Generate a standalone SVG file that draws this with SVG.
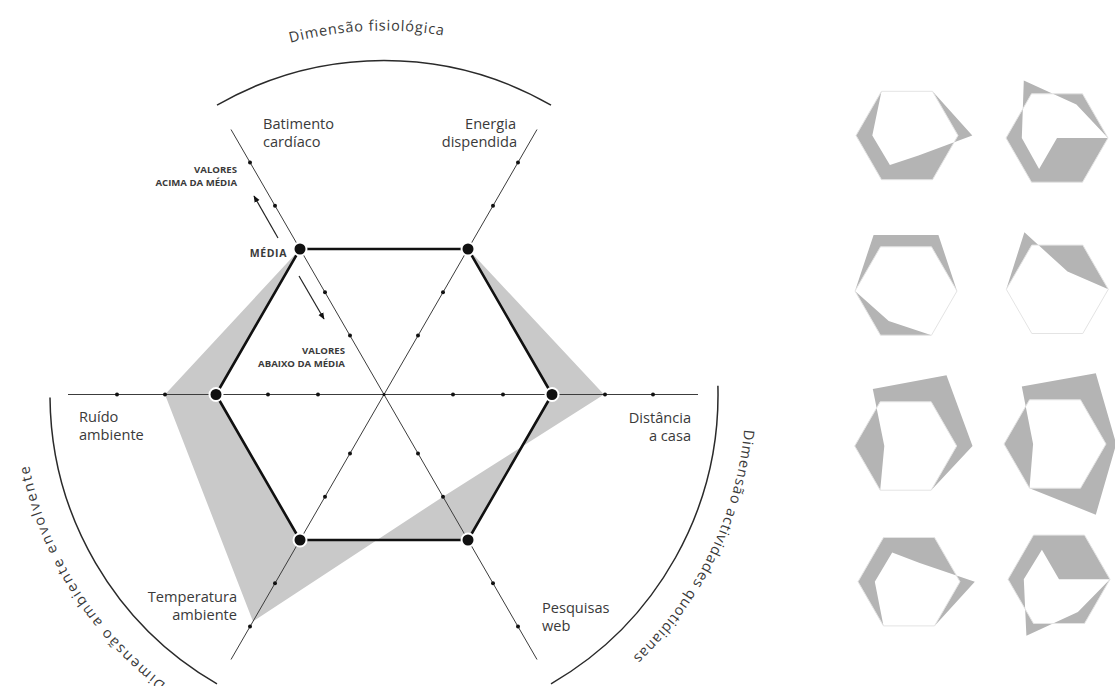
<svg xmlns="http://www.w3.org/2000/svg" width="1115" height="686" viewBox="0 0 1115 686">
<defs>
<style>
.axis{stroke:#3c3c3c;stroke-width:1;fill:none}
.hex{stroke:#111;stroke-width:2.6;fill:none;stroke-linejoin:round}
.big{fill:#111;stroke:#fff;stroke-width:2}
.tick{fill:#111}
.lbl{font-family:"Open Sans","Liberation Sans",sans-serif;font-size:14.6px;fill:#3a3a3a}
.cap{font-family:"Open Sans","Liberation Sans",sans-serif;font-weight:700;font-size:9.6px;fill:#3a3a3a}
.med{font-family:"Open Sans","Liberation Sans",sans-serif;font-weight:700;font-size:10.5px;letter-spacing:0.6px;fill:#3a3a3a}
.dim{font-family:"Open Sans","Liberation Sans",sans-serif;font-size:14.5px;letter-spacing:0.8px;fill:#3a3a3a}
.arc{stroke:#2a2a2a;stroke-width:1.5;fill:none}
.area{fill:#c9c9c9;fill-rule:evenodd}
.thumb{fill:#b4b4b4;fill-rule:evenodd}
.thex{fill:none;stroke:#e4e4e4;stroke-width:1}
.arr{stroke:#222;stroke-width:1.2;fill:none}
</style>
<marker id="ah" viewBox="0 0 10 10" refX="9" refY="5" markerWidth="7" markerHeight="7" orient="auto" markerUnits="userSpaceOnUse">
<path d="M0,1 L10,5 L0,9 Z" fill="#111"/>
</marker>
<path id="tpTop" d="M202,79.3 A364,364 0 0 1 566,79.3"/>
<path id="tpRight" d="M744.3,429.2 A362,362 0 0 1 477.7,744.2"/>
<path id="tpLeft" d="M166.1,683.6 A362,362 0 0 1 23.4,362.9"/>
</defs>

<g id="difference-area">
<path class="area" d="M300,249 L468,249 L552,394.5 L468,540 L300,540 L216,394.5 Z M300,249 L468,249 L604,394.5 L443,496.7 L253,621.4 L165,394.5 Z"/>
</g>

<g id="connectors">
<line class="axis" x1="68" y1="394.5" x2="698" y2="394.5"/>
<line class="axis" x1="231" y1="129.5" x2="537" y2="659.5"/>
<line class="axis" x1="537" y1="129.5" x2="231" y2="659.5"/>
<polygon class="hex" points="300,249 468,249 552,394.5 468,540 300,540 216,394.5"/>
<line class="arr" x1="278" y1="238" x2="254" y2="196" marker-end="url(#ah)"/>
<line class="arr" x1="299" y1="276" x2="324" y2="319" marker-end="url(#ah)"/>
</g>

<g id="ticks">
<circle class="tick" cx="117" cy="394.5" r="2"/>
<circle class="tick" cx="165" cy="394.5" r="2"/>
<circle class="tick" cx="268" cy="394.5" r="2"/>
<circle class="tick" cx="318" cy="394.5" r="2"/>
<circle class="tick" cx="453" cy="394.5" r="2"/>
<circle class="tick" cx="503" cy="394.5" r="2"/>
<circle class="tick" cx="605" cy="394.5" r="2"/>
<circle class="tick" cx="653" cy="394.5" r="2"/>
<circle class="tick" cx="384" cy="394.5" r="1.6"/>
<circle class="tick" cx="350" cy="335.6" r="2"/>
<circle class="tick" cx="325" cy="292.3" r="2"/>
<circle class="tick" cx="275" cy="205.7" r="2"/>
<circle class="tick" cx="250" cy="162.4" r="2"/>
<circle class="tick" cx="418" cy="335.6" r="2"/>
<circle class="tick" cx="443" cy="292.3" r="2"/>
<circle class="tick" cx="493" cy="205.7" r="2"/>
<circle class="tick" cx="518" cy="162.4" r="2"/>
<circle class="tick" cx="350" cy="453.4" r="2"/>
<circle class="tick" cx="325" cy="496.7" r="2"/>
<circle class="tick" cx="275" cy="583.3" r="2"/>
<circle class="tick" cx="250" cy="626.6" r="2"/>
<circle class="tick" cx="418" cy="453.4" r="2"/>
<circle class="tick" cx="443" cy="496.7" r="2"/>
<circle class="tick" cx="493" cy="583.3" r="2"/>
<circle class="tick" cx="518" cy="626.6" r="2"/>
</g>

<g id="mean-points">
<circle class="big" cx="300" cy="249" r="6.5"/>
<circle class="big" cx="468" cy="249" r="6.5"/>
<circle class="big" cx="552" cy="394.5" r="6.5"/>
<circle class="big" cx="468" cy="540" r="6.5"/>
<circle class="big" cx="300" cy="540" r="6.5"/>
<circle class="big" cx="216" cy="394.5" r="6.5"/>
</g>

<g id="dimension-arcs">
<path class="arc" d="M217,105.2 A334,334 0 0 1 551,105.2"/>
<path class="arc" d="M717.9,385.8 A334,334 0 0 1 551,683.8"/>
<path class="arc" d="M217,683.8 A334,334 0 0 1 50,397.4"/>
</g>

<g id="dim-fisiologica"><text class="dim"><textPath href="#tpTop" startOffset="45.5%" text-anchor="middle">Dimensão fisiológica</textPath></text></g>
<g id="dim-actividades"><text class="dim" style="letter-spacing:0.9px"><textPath href="#tpRight">Dimensão actividades quotidianas</textPath></text></g>
<g id="dim-ambiente"><text class="dim" style="letter-spacing:1.8px"><textPath href="#tpLeft">Dimensão ambiente envolvente</textPath></text></g>

<g id="label-batimento"><text class="lbl" x="263" y="129">Batimento</text><text class="lbl" x="263" y="147">cardíaco</text></g>
<g id="label-energia"><text class="lbl" x="516" y="129" text-anchor="end">Energia</text><text class="lbl" x="517" y="147" text-anchor="end">dispendida</text></g>
<g id="label-distancia"><text class="lbl" x="691" y="423" text-anchor="end">Distância</text><text class="lbl" x="691" y="441" text-anchor="end">a casa</text></g>
<g id="label-pesquisas"><text class="lbl" x="542" y="613">Pesquisas</text><text class="lbl" x="542" y="631">web</text></g>
<g id="label-temperatura"><text class="lbl" x="237" y="602" text-anchor="end">Temperatura</text><text class="lbl" x="237" y="620" text-anchor="end">ambiente</text></g>
<g id="label-ruido"><text class="lbl" x="79" y="421.5">Ruído</text><text class="lbl" x="79" y="439.5">ambiente</text></g>
<g id="label-media"><text class="med" x="287" y="256.5" text-anchor="end">MÉDIA</text></g>
<g id="label-acima"><text class="cap" x="237" y="173" text-anchor="end">VALORES</text><text class="cap" x="237" y="186" text-anchor="end">ACIMA DA MÉDIA</text></g>
<g id="label-abaixo"><text class="cap" x="345" y="354" text-anchor="end">VALORES</text><text class="cap" x="345" y="367" text-anchor="end">ABAIXO DA MÉDIA</text></g>

<g id="thumb-1" transform="translate(907,135.5)">
<path class="thumb" d="M51,0 L25.5,-44.2 L-25.5,-44.2 L-51,0 L-25.5,44.2 L25.5,44.2 Z M65.3,0 L25.5,-44.2 L-25.5,-44.2 L-34.7,0 L-17.1,29.6 L11.5,19.9 Z"/>
<polygon class="thex" points="51,0 25.5,-44.2 -25.5,-44.2 -51,0 -25.5,44.2 25.5,44.2"/>
</g>
<g id="thumb-2" transform="translate(1057,138)">
<path class="thumb" d="M51,0 L25.5,-44.2 L-25.5,-44.2 L-51,0 L-25.5,44.2 L25.5,44.2 Z M51,0 L19.4,-33.6 L-33.2,-57.4 L-35.2,0 L-17.9,30.9 L0,0 Z"/>
<polygon class="thex" points="51,0 25.5,-44.2 -25.5,-44.2 -51,0 -25.5,44.2 25.5,44.2"/>
</g>
<g id="thumb-3" transform="translate(906,291)">
<path class="thumb" d="M51,0 L25.5,-44.2 L-25.5,-44.2 L-51,0 L-25.5,44.2 L25.5,44.2 Z M51,0 L32.4,-56.1 L-32.4,-56.1 L-51,0 L-17.3,30 L25.5,44.2 Z"/>
<polygon class="thex" points="51,0 25.5,-44.2 -25.5,-44.2 -51,0 -25.5,44.2 25.5,44.2"/>
</g>
<g id="thumb-4" transform="translate(1057.3,289.3)">
<path class="thumb" d="M51,0 L25.5,-44.2 L-25.5,-44.2 L-51,0 L-25.5,44.2 L25.5,44.2 Z M51,0 L10.2,-17.7 L-32.9,-57 L-51,0 L-25.5,44.2 L25.5,44.2 Z"/>
<polygon class="thex" points="51,0 25.5,-44.2 -25.5,-44.2 -51,0 -25.5,44.2 25.5,44.2"/>
</g>
<g id="thumb-5" transform="translate(905.7,446)">
<path class="thumb" d="M51,0 L25.5,-44.2 L-25.5,-44.2 L-51,0 L-25.5,44.2 L25.5,44.2 Z M66.8,0 L40.8,-70.7 L-32.9,-57 L-21.4,0 L-25.5,44.2 L25.5,44.2 Z"/>
<polygon class="thex" points="51,0 25.5,-44.2 -25.5,-44.2 -51,0 -25.5,44.2 25.5,44.2"/>
</g>
<g id="thumb-6" transform="translate(1055,444)">
<path class="thumb" d="M51,0 L25.5,-44.2 L-25.5,-44.2 L-51,0 L-25.5,44.2 L25.5,44.2 Z M61.2,0 L40.8,-70.7 L-33.2,-57.4 L-21.9,0 L-25.5,44.2 L40.8,70.7 Z"/>
<polygon class="thex" points="51,0 25.5,-44.2 -25.5,-44.2 -51,0 -25.5,44.2 25.5,44.2"/>
</g>
<g id="thumb-7" transform="translate(909,581.7)">
<path class="thumb" d="M51,0 L25.5,-44.2 L-25.5,-44.2 L-51,0 L-25.5,44.2 L25.5,44.2 Z M65.8,0 L10.7,-18.6 L-16.8,-29.2 L-34.2,0 L-25.5,44.2 L25.5,44.2 Z"/>
<polygon class="thex" points="51,0 25.5,-44.2 -25.5,-44.2 -51,0 -25.5,44.2 25.5,44.2"/>
</g>
<g id="thumb-8" transform="translate(1059,579.3)">
<path class="thumb" d="M51,0 L25.5,-44.2 L-25.5,-44.2 L-51,0 L-25.5,44.2 L25.5,44.2 Z M51,0 L0,0 L-17.1,-29.6 L-35.2,0 L-32.6,56.5 L18.9,32.7 Z"/>
<polygon class="thex" points="51,0 25.5,-44.2 -25.5,-44.2 -51,0 -25.5,44.2 25.5,44.2"/>
</g>
</svg>
